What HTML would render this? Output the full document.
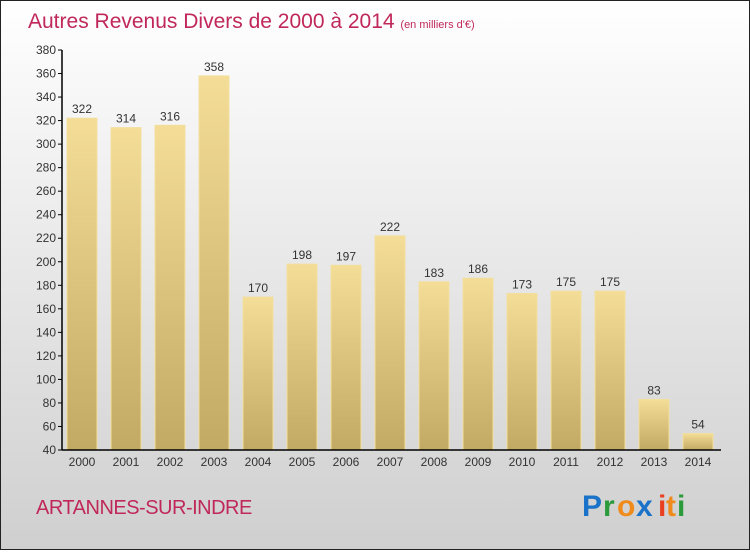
<!DOCTYPE html>
<html><head><meta charset="utf-8"><style>
html,body{margin:0;padding:0}
body{width:750px;height:550px;overflow:hidden;font-family:"Liberation Sans",sans-serif}
</style></head><body>
<svg id="chart" width="750" height="550" xmlns="http://www.w3.org/2000/svg">
<defs>
<linearGradient id="bg" x1="0" y1="0" x2="0" y2="1"><stop offset="0" stop-color="#ffffff"/><stop offset="1" stop-color="#cfcfcf"/></linearGradient>
<linearGradient id="bar" x1="0" y1="0" x2="0" y2="1"><stop offset="0" stop-color="#f4dd97"/><stop offset="1" stop-color="#c2a964"/></linearGradient>
</defs>
<rect x="0.5" y="0.5" width="749" height="549" fill="url(#bg)" stroke="#222" stroke-width="1"/>
<text x="28" y="28" font-size="21" fill="#c0285a">Autres Revenus Divers de 2000 à 2014 <tspan font-size="11">(en milliers d'€)</tspan></text>
<g id="yaxis"></g>
<g id="bars"></g>
<g id="xaxis"></g>
<text x="36" y="514" font-size="20" fill="#c0285a" letter-spacing="-0.5">ARTANNES-SUR-INDRE</text>
<g font-size="30" font-family="'Liberation Sans',sans-serif" font-weight="bold">
<text x="582" y="516" fill="#1a73c8">P</text><text x="603" y="516" fill="#2a9a3a">r</text><text x="617" y="516" fill="#f08a1a">o</text><text x="636" y="516" fill="#1a73c8">x</text><text x="658" y="516" fill="#e84020">i</text><text x="666" y="516" fill="#f08a1a">t</text><text x="677" y="516" fill="#2a9a3a">i</text>
</g>
</svg>
<script>
const years=["2000","2001","2002","2003","2004","2005","2006","2007","2008","2009","2010","2011","2012","2013","2014"];
const values=[322,314,316,358,170,198,197,222,183,186,173,175,175,83,54];
const yTicks=[40,60,80,100,120,140,160,180,200,220,240,260,280,300,320,340,360,380];
const NS="http://www.w3.org/2000/svg";
const y0=450,y1=50,vmin=40,vmax=380;
function yS(v){return y0-(v-vmin)/(vmax-vmin)*(y0-y1);}
function xC(i){return 82+i*44;}
function mk(t,a,p,txt){const e=document.createElementNS(NS,t);for(const k in a)e.setAttribute(k,a[k]);if(txt!==undefined)e.textContent=txt;p.appendChild(e);return e;}
const ya=document.getElementById('yaxis'),ba=document.getElementById('bars'),xa=document.getElementById('xaxis');
mk('line',{x1:62,y1:y1,x2:62,y2:y0,stroke:'#000','stroke-width':1.5},ya);
yTicks.forEach(v=>{
 const l=mk('line',{x1:58,x2:62,y1:yS(v),y2:yS(v),stroke:'#000'},ya);
 
 
 const t=mk('text',{x:56,y:yS(v)+4,'font-size':12,'text-anchor':'end',fill:'#333'},ya,v);
 
 
});
values.forEach((v,i)=>{
 const r=mk('rect',{x:xC(i)-15,y:yS(v),width:30,height:y0-yS(v),fill:'url(#bar)',stroke:'#f2df9e','stroke-width':1},ba);
 
 
 const t=mk('text',{x:xC(i),y:yS(v)-5,'font-size':12,'text-anchor':'middle',fill:'#333'},ba,v);
 
 
 const xl=mk('text',{x:xC(i),y:466,'font-size':12,'text-anchor':'middle',fill:'#333'},xa,years[i]);
 
 
});
mk('line',{x1:62,y1:y0,x2:721,y2:y0,stroke:'#000','stroke-width':1.5},xa);
</script>
</body></html>
